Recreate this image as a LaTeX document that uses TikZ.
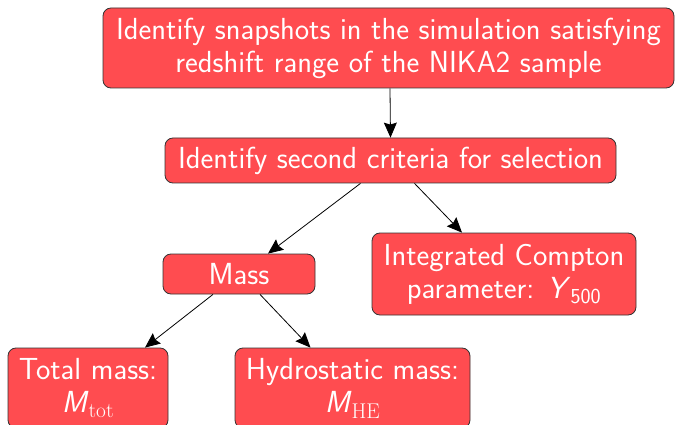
\documentclass[tikz,border=0pt]{standalone}
\usepackage{fontspec}
\usetikzlibrary{arrows.meta}
\definecolor{boxred}{RGB}{255,76,80}
\tikzset{
  stepbox/.style={draw=black!80, line width=0.8pt, fill=boxred, rounded corners=8pt,
    text=white, align=center, inner sep=2pt,
    font=\sffamily\fontsize{30.5}{33}\selectfont},
  link/.style={-{Stealth[length=15pt,width=13pt,inset=2pt]}, line width=0.8pt}
}
\newcommand{\symM}{\textit{M}}
\begin{document}
\begin{tikzpicture}[x=1pt, y=-1pt]
        \useasboundingbox (0,0) rectangle (675,425);

        \node[stepbox, minimum width=571pt, minimum height=80pt] (snap) at (388.5,48)
            {Identify snapshots in the simulation satisfying\\redshift range of the NIKA2 sample};
        \node[stepbox, minimum width=451pt, minimum height=45pt] (crit) at (390.5,160.5)
            {Identify second criteria for selection};
        \node[stepbox, minimum width=152pt, minimum height=40pt] (mass) at (239,274)
            {Mass};
        \node[stepbox, minimum width=264pt, minimum height=82pt] (compton) at (504,274)
            {Integrated Compton\\parameter: \textit{Y}$_{\mathsf{500}}$};
        \node[stepbox, minimum width=160pt, minimum height=80pt] (mtot) at (88,388)
            {Total mass:\\\symM$_{\mathrm{tot}}$};
        \node[stepbox, minimum width=235pt, minimum height=80pt] (mhe) at (352.5,388)
            {Hydrostatic mass:\\\symM$_{\mathrm{HE}}$};

        \draw[link] ([xshift=1.5pt]snap.south) -- (crit.north);
        \draw[link] ([xshift=-30pt]crit.south) -- ([xshift=29pt]mass.north);
        \draw[link] ([xshift=24pt]crit.south) -- ([xshift=-42pt]compton.north);
        \draw[link] ([xshift=-26pt]mass.south) -- ([xshift=57pt]mtot.north);
        \draw[link] ([xshift=21pt]mass.south) -- ([xshift=-42pt]mhe.north);
    \end{tikzpicture}
\end{document}
